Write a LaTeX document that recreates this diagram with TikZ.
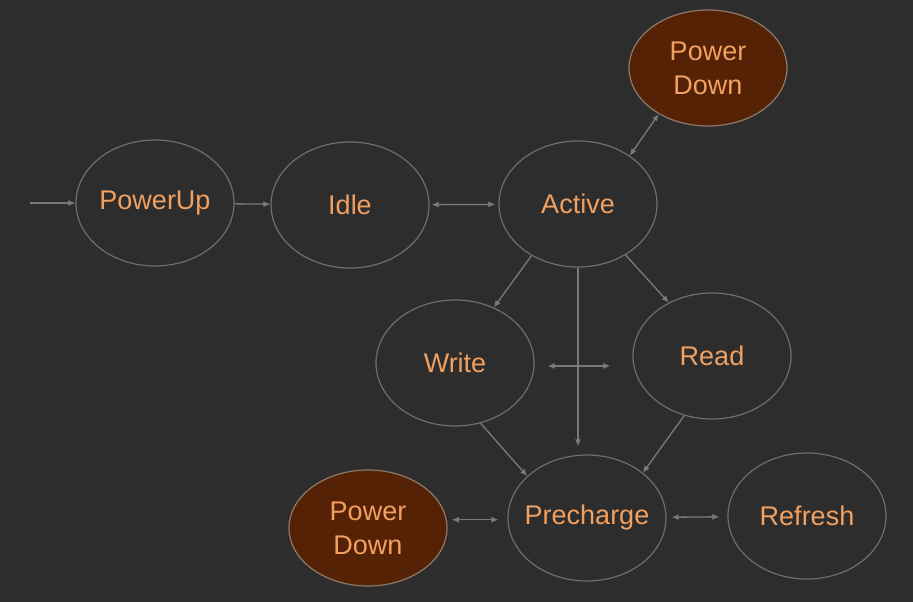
\documentclass[tikz,border=0pt]{standalone}
\usepackage{fontspec}
\setmainfont{Liberation Sans}
\usetikzlibrary{shapes.geometric,arrows.meta}
\definecolor{bg}{HTML}{2D2D2D}
\definecolor{edgegray}{HTML}{6E6E6E}
\definecolor{linegray}{HTML}{7A7A7A}
\definecolor{txtorange}{HTML}{F2A060}
\definecolor{pdfill}{HTML}{552206}
\definecolor{pdborder}{HTML}{8C7A68}
\begin{document}
\begin{tikzpicture}[x=1pt,y=-1pt,
  st/.style={ellipse, draw=edgegray, line width=1.2pt, inner sep=0pt,
    minimum width=158pt, minimum height=126pt, text=txtorange,
    font=\fontsize{27}{34}\selectfont},
  pd/.style={st, fill=pdfill, draw=pdborder, minimum height=116pt, align=center},
  conn/.style={draw=linegray, line width=1.3pt, -{Latex[length=7pt,width=6pt]}},
  biconn/.style={draw=linegray, line width=1.3pt,
    {Latex[length=7pt,width=6pt]}-{Latex[length=7pt,width=6pt]}}]
\path[fill=bg, use as bounding box] (0,0) rectangle (913,602);

\node[st] (pu)   at (155,203) {PowerUp};
\node[st] (idle) at (350,205) {Idle};
\node[st] (act)  at (578,204) {Active};
\node[pd] (pd1)  at (708,68)  {Power\\Down};
\node[st] (wr)   at (455,363) {Write};
\node[st] (rd)   at (712,356) {Read};
\node[st, inner xsep=-10pt] (pre)  at (587,518) {Precharge};
\node[pd] (pd2)  at (368,528) {Power\\Down};
\node[st] (ref)  at (807,516) {Refresh};

\coordinate (start) at (30,203);

\draw[conn] (start) -- (pu.west);
\draw[conn] (pu) -- (idle);
\draw[biconn, shorten <=2pt, shorten >=3pt] (idle) -- (act);
\draw[biconn] (act.43) -- (pd1.223);
\draw[conn] (act.228) -- (wr.55);
\draw[conn] (act.313) -- (rd.129);
\draw[conn, shorten >=8pt] (act.south) -- (act.south |- pre.north);
\draw[biconn, shorten <=13pt, shorten >=22pt] ([yshift=-3pt]wr.east) -- ([yshift=-3pt]wr.east -| rd.west);
\draw[conn] (wr.293) -- (pre.145);
\draw[conn] (rd.245) -- (pre.39);
\draw[biconn, shorten <=5pt, shorten >=9pt] (pd2.6) -- (pd2.6 -| pre.west);
\draw[biconn, shorten <=5pt, shorten >=8pt] (pre) -- (ref);
\end{tikzpicture}
\end{document}
